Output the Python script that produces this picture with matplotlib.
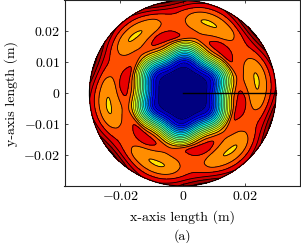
import numpy as np
import matplotlib
matplotlib.use('Agg')
import matplotlib.pyplot as plt
from matplotlib.colors import ListedColormap

plt.rcParams['mathtext.fontset'] = 'cm'
plt.rcParams['font.family'] = 'cmr10'
plt.rcParams['axes.unicode_minus'] = False
plt.rcParams['axes.formatter.use_mathtext'] = True

# field, one 60 degree sector (the pattern repeats 6 times)
phase_deg = 7
sector_angles = [-30, -20, -10, 0, 10, 20]
radii = [0, 0.004, 0.006, 0.008, 0.010, 0.012, 0.014, 0.016, 0.0175, 0.0185,
         0.020, 0.0215, 0.023, 0.024, 0.0255, 0.027, 0.028, 0.029, 0.030]
field = [
    [0.2, 0.2, 0.2, 0.2, 0.2, 0.2],
    [0.3, 0.3, 0.4, 0.3, 0.3, 0.3],
    [0.5, 0.5, 0.6, 0.6, 0.5, 0.4],
    [0.8, 0.9, 1.0, 1.0, 0.8, 0.7],
    [2.8, 3.3, 3.9, 3.5, 2.4, 1.9],
    [6.4, 7.2, 8.0, 7.4, 5.8, 5.4],
    [10.3, 11.0, 11.7, 11.2, 9.2, 9.2],
    [13.9, 14.8, 15.5, 15.0, 12.7, 12.9],
    [16.5, 16.9, 16.8, 16.4, 15.7, 15.9],
    [17.4, 17.85, 17.6, 16.7, 16.2, 16.7],
    [17.0, 17.5, 17.0, 16.2, 16.1, 16.5],
    [16.5, 16.4, 15.9, 15.5, 15.7, 16.1],
    [16.5, 16.0, 15.4, 15.05, 15.3, 15.9],
    [16.6, 15.9, 15.25, 14.78, 15.05, 15.8],
    [16.9, 16.2, 15.5, 15.1, 15.3, 16.1],
    [17.4, 17.1, 16.3, 15.9, 16.0, 16.8],
    [18.2, 17.9, 17.0, 16.6, 16.7, 17.5],
    [19.1, 18.9, 17.8, 17.3, 17.4, 18.2],
    [20.2, 20.0, 18.7, 18.0, 18.2, 19.1],
]
jet_stops = list(np.linspace(0, 0.667, 15)) + [0.76, 0.826, 0.91, 0.93, 0.97, 1.0]

x_ticks = [-0.02, 0, 0.02]
y_ticks = [-0.02, -0.01, 0, 0.01, 0.02]
x_tick_labels = [r'$-0.02$', r'$0$', r'$0.02$']
y_tick_labels = [r'$-0.02$', r'$-0.01$', r'$0$', r'$0.01$', r'$0.02$']

# fine polar grid: fourier upsample round the circle, then interp along r
field = np.array(field)
radii = np.array(radii)
n_theta = 720
whole = np.tile(field, (1, 6))
spec = np.fft.rfft(whole, axis=1)
spec[:, 18] = 0  # sector nyquist only gives wiggles
spec[radii <= 0.016, 12] = 0  # inner contours only have the 6 bumps
pad = np.zeros((spec.shape[0], n_theta // 2 + 1), dtype=complex)
pad[:, :spec.shape[1]] = spec
fine = np.fft.irfft(pad, n=n_theta, axis=1) * n_theta / whole.shape[1]

r_fine = np.linspace(0, radii[-1], 300)
zz = np.array([np.interp(r_fine, radii, fine[:, j]) for j in range(n_theta)]).T
kernel = np.ones(13) / 13
edge = np.pad(zz, ((6, 6), (0, 0)), mode='edge')
zz = np.apply_along_axis(lambda c: np.convolve(c, kernel, mode='valid'), 0, edge)
zz = np.hstack([zz, zz[:, :1]])

theta = np.deg2rad(phase_deg + sector_angles[0] + np.linspace(0, 360, n_theta + 1))
rr, tt = np.meshgrid(r_fine, theta, indexing='ij')
xx = rr * np.cos(tt)
yy = rr * np.sin(tt)

levels = np.arange(len(jet_stops) + 1)
cmap = ListedColormap(plt.cm.jet(jet_stops))

fig = plt.figure(figsize=(3.01, 2.43), dpi=100)
ax = fig.add_axes([64.5 / 301, 57 / 243, 235.5 / 301, 185.5 / 243])
ax.contourf(xx, yy, zz, levels=levels, cmap=cmap, vmin=0, vmax=levels[-1], extend='both')
# thinner lines in the tight gradient, otherwise it goes all black
ax.contour(xx, yy, zz, levels=levels[:15], colors='k', linewidths=0.35)
ax.contour(xx, yy, zz, levels=levels[15:], colors='k', linewidths=0.6)

# rim of the disc and the radial line
ang = np.linspace(0, 2 * np.pi, 400)
ax.plot(radii[-1] * np.cos(ang), radii[-1] * np.sin(ang), color='k', lw=0.8)
ax.plot([0, radii[-1]], [0, 0], color='k', lw=1.0)

ax.set_xlim(-0.038, 0.0377)
ax.set_ylim(-0.03, 0.03)
ax.set_xticks(x_ticks)
ax.set_xticklabels(x_tick_labels, fontsize=10)
ax.set_yticks(y_ticks)
ax.set_yticklabels(y_tick_labels, fontsize=10)
ax.tick_params(direction='in', top=True, right=True, length=2, width=0.5, pad=3)
for s in ax.spines.values():
    s.set_linewidth(0.8)
    s.set_color('#222222')

ax.set_xlabel('x-axis length (m)', fontsize=10, labelpad=5)
ax.set_ylabel('y-axis length (m)', fontsize=10, labelpad=4)
fig.text(182 / 301, 7 / 243, '(a)', fontsize=10, ha='center', va='center')

fig.savefig('out.png', dpi=100)
